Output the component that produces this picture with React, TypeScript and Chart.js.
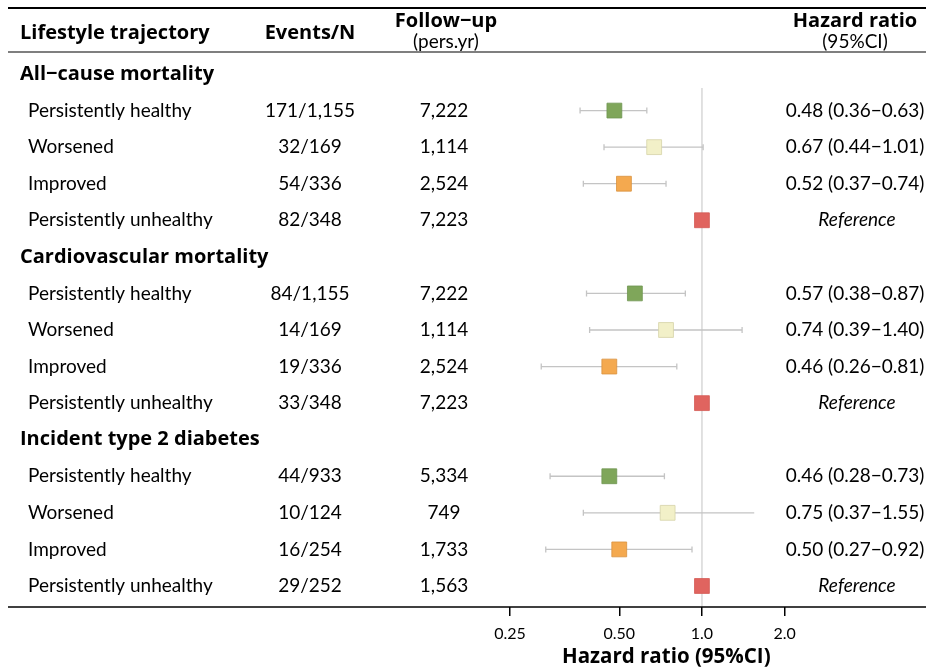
import React, { useEffect, useRef } from "react";
import { Chart, registerables } from "chart.js";

Chart.register(...registerables);

// ---------------- data ----------------
const groupTitles = ["All−cause mortality", "Cardiovascular mortality", "Incident type 2 diabetes"];
const trajectories = ["Persistently healthy", "Worsened", "Improved", "Persistently unhealthy"];
const trajectoryColors = ["#7FA65A", "#F2F0C8", "#F4A94F", "#E0645F"];
const trajectoryBorders = ["#6E9650", "#D6D3A8", "#D9923F", "#D45A55"];

const eventsAllCause = ["171/1,155", "32/169", "54/336", "82/348"];
const eventsCardio = ["84/1,155", "14/169", "19/336", "33/348"];
const eventsDiabetes = ["44/933", "10/124", "16/254", "29/252"];

const followAllCause = ["7,222", "1,114", "2,524", "7,223"];
const followCardio = ["7,222", "1,114", "2,524", "7,223"];
const followDiabetes = ["5,334", "749", "1,733", "1,563"];

const hrAllCause = [0.48, 0.67, 0.52, 1.0];
const loAllCause = [0.36, 0.44, 0.37, null];
const hiAllCause = [0.63, 1.01, 0.74, null];

const hrCardio = [0.57, 0.74, 0.46, 1.0];
const loCardio = [0.38, 0.39, 0.26, null];
const hiCardio = [0.87, 1.4, 0.81, null];

const hrDiabetes = [0.46, 0.75, 0.5, 1.0];
const loDiabetes = [0.28, 0.37, 0.27, null];
const hiDiabetes = [0.73, 1.55, 0.92, null];

const tickValues = [0.2, 0.5, 1, 2];
const tickLabels = ["0.25", "0.50", "1.0", "2.0"];
const xMin = 0.00306;
const xMax = 5.95;
const capLimit = 1.5; // CI ends beyond this are drawn without a cap

const groups = [
  { title: groupTitles[0], events: eventsAllCause, follow: followAllCause, hr: hrAllCause, lo: loAllCause, hi: hiAllCause },
  { title: groupTitles[1], events: eventsCardio, follow: followCardio, hr: hrCardio, lo: loCardio, hi: hiCardio },
  { title: groupTitles[2], events: eventsDiabetes, follow: followDiabetes, hr: hrDiabetes, lo: loDiabetes, hi: hiDiabetes },
];

const FONT = 'Lato, "Open Sans", "DejaVu Sans", sans-serif';
const BOLD_FONT = '"Open Sans", Lato, "DejaVu Sans", sans-serif';

const rowOf = (g: number, i: number) => g * 5 + 1 + i;
const fmt = (v: number) => v.toFixed(2);

export default function App() {
  const ref = useRef<HTMLCanvasElement | null>(null);

  useEffect(() => {
    if (!ref.current) return;

    const points: any[] = [];
    const colors: string[] = [];
    const borders: string[] = [];
    groups.forEach((g, gi) => {
      g.hr.forEach((v, i) => {
        points.push({ x: v, y: rowOf(gi, i) });
        colors.push(trajectoryColors[i]);
        borders.push(trajectoryBorders[i]);
      });
    });

    const forestPlugin = {
      id: "forest",
      beforeDatasetsDraw(chart: any) {
        const { ctx, scales, chartArea } = chart;
        const xs = scales.x;
        const ys = scales.y;
        ctx.save();
        // reference line at HR = 1
        const x1 = xs.getPixelForValue(1);
        ctx.strokeStyle = "#DADADA";
        ctx.lineWidth = 1.6;
        ctx.beginPath();
        ctx.moveTo(x1, ys.getPixelForValue(0.38));
        ctx.lineTo(x1, chartArea.bottom);
        ctx.stroke();
        // confidence intervals
        ctx.strokeStyle = "#C4C4C4";
        ctx.lineWidth = 1.3;
        groups.forEach((g, gi) => {
          g.hr.forEach((_, i) => {
            const lo = g.lo[i];
            const hi = g.hi[i];
            if (lo == null || hi == null) return;
            const y = ys.getPixelForValue(rowOf(gi, i));
            const xl = xs.getPixelForValue(lo);
            const xh = xs.getPixelForValue(hi);
            ctx.beginPath();
            ctx.moveTo(xl, y);
            ctx.lineTo(xh, y);
            ctx.moveTo(xl, y - 3);
            ctx.lineTo(xl, y + 3);
            if (hi <= capLimit) {
              ctx.moveTo(xh, y - 3);
              ctx.lineTo(xh, y + 3);
            }
            ctx.stroke();
          });
        });
        ctx.restore();
      },
      afterDraw(chart: any) {
        const { ctx, scales, chartArea } = chart;
        const xs = scales.x;
        const ys = scales.y;
        ctx.save();
        ctx.fillStyle = "#000";
        ctx.textBaseline = "middle";

        // rules
        ctx.strokeStyle = "#000";
        ctx.lineWidth = 2;
        ctx.beginPath();
        ctx.moveTo(8, 8);
        ctx.lineTo(926, 8);
        ctx.stroke();
        ctx.lineWidth = 1.2;
        ctx.beginPath();
        ctx.moveTo(8, chartArea.top);
        ctx.lineTo(926, chartArea.top);
        ctx.stroke();
        ctx.lineWidth = 1.5;
        ctx.beginPath();
        ctx.moveTo(8, chartArea.bottom);
        ctx.lineTo(926, chartArea.bottom);
        ctx.stroke();

        const colEvents = 310;
        const colFollow = 446;
        const colHR = 855;

        // header
        ctx.font = `bold 20px ${BOLD_FONT}`;
        ctx.textAlign = "left";
        ctx.fillText("Lifestyle trajectory", 20, 33);
        ctx.textAlign = "center";
        ctx.fillText("Events/N", colEvents, 33);
        ctx.fillText("Follow−up", colFollow, 21);
        ctx.fillText("Hazard ratio", colHR, 21);
        ctx.font = `19px ${FONT}`;
        ctx.fillText("(pers.yr)", colFollow, 42);
        ctx.fillText("(95%CI)", colHR, 42);

        groups.forEach((g, gi) => {
          const yt = ys.getPixelForValue(gi * 5);
          ctx.font = `bold 20px ${BOLD_FONT}`;
          ctx.textAlign = "left";
          ctx.fillText(g.title, 20, yt);
          trajectories.forEach((t, i) => {
            const y = ys.getPixelForValue(rowOf(gi, i));
            ctx.font = `19px ${FONT}`;
            ctx.textAlign = "left";
            ctx.fillText(t, 28, y);
            ctx.textAlign = "center";
            ctx.fillText(g.events[i], colEvents, y);
            ctx.fillText(g.follow[i], colFollow - 2, y);
            const lo = g.lo[i];
            const hi = g.hi[i];
            if (lo == null || hi == null) {
              ctx.font = `italic 19px ${FONT}`;
              ctx.fillText("Reference", colHR + 2, y);
            } else {
              ctx.fillText(`${fmt(g.hr[i])} (${fmt(lo)}−${fmt(hi)})`, colHR, y);
            }
          });
        });

        // axis title
        ctx.font = `bold 20.5px ${BOLD_FONT}`;
        ctx.textAlign = "center";
        const tx = (xs.getPixelForValue(0.25) + xs.getPixelForValue(2.2)) / 2;
        ctx.fillText("Hazard ratio (95%CI)", tx, 657);
        ctx.restore();
      },
    };

    const chart = new Chart(ref.current, {
      type: "scatter",
      data: {
        datasets: [
          {
            data: points,
            backgroundColor: colors,
            borderColor: borders,
            borderWidth: 0.8,
            pointStyle: "rect",
            pointRadius: 10.5,
            pointHoverRadius: 10.5,
          },
        ],
      },
      options: {
        responsive: false,
        animation: false,
        devicePixelRatio: 1,
        layout: { padding: { top: 52, left: 8, right: 0, bottom: 0 } },
        plugins: { legend: { display: false }, tooltip: { enabled: false } },
        scales: {
          x: {
            type: "logarithmic",
            min: xMin,
            max: xMax,
            afterFit: (s: any) => {
              s.height = 64;
            },
            afterBuildTicks: (s: any) => {
              s.ticks = tickValues.map((v) => ({ value: v }));
            },
            ticks: {
              autoSkip: false,
              maxRotation: 0,
              color: "#000",
              padding: 8,
              font: { family: FONT, size: 16 },
              callback: (_v: any, i: number) => tickLabels[i],
            },
            grid: {
              drawOnChartArea: false,
              drawTicks: true,
              tickLength: 9,
              color: "#000",
              lineWidth: 1.5,
            },
            border: { display: false },
          },
          y: {
            type: "linear",
            display: false,
            reverse: true,
            min: -0.6016,
            max: 14.575,
          },
        },
      },
      plugins: [forestPlugin],
    });
    return () => chart.destroy();
  }, []);

  return (
    <div style={{ position: "absolute", left: 0, top: 0, width: 926, height: 671, background: "#fff" }}>
      <canvas ref={ref} width={926} height={671} />
    </div>
  );
}
